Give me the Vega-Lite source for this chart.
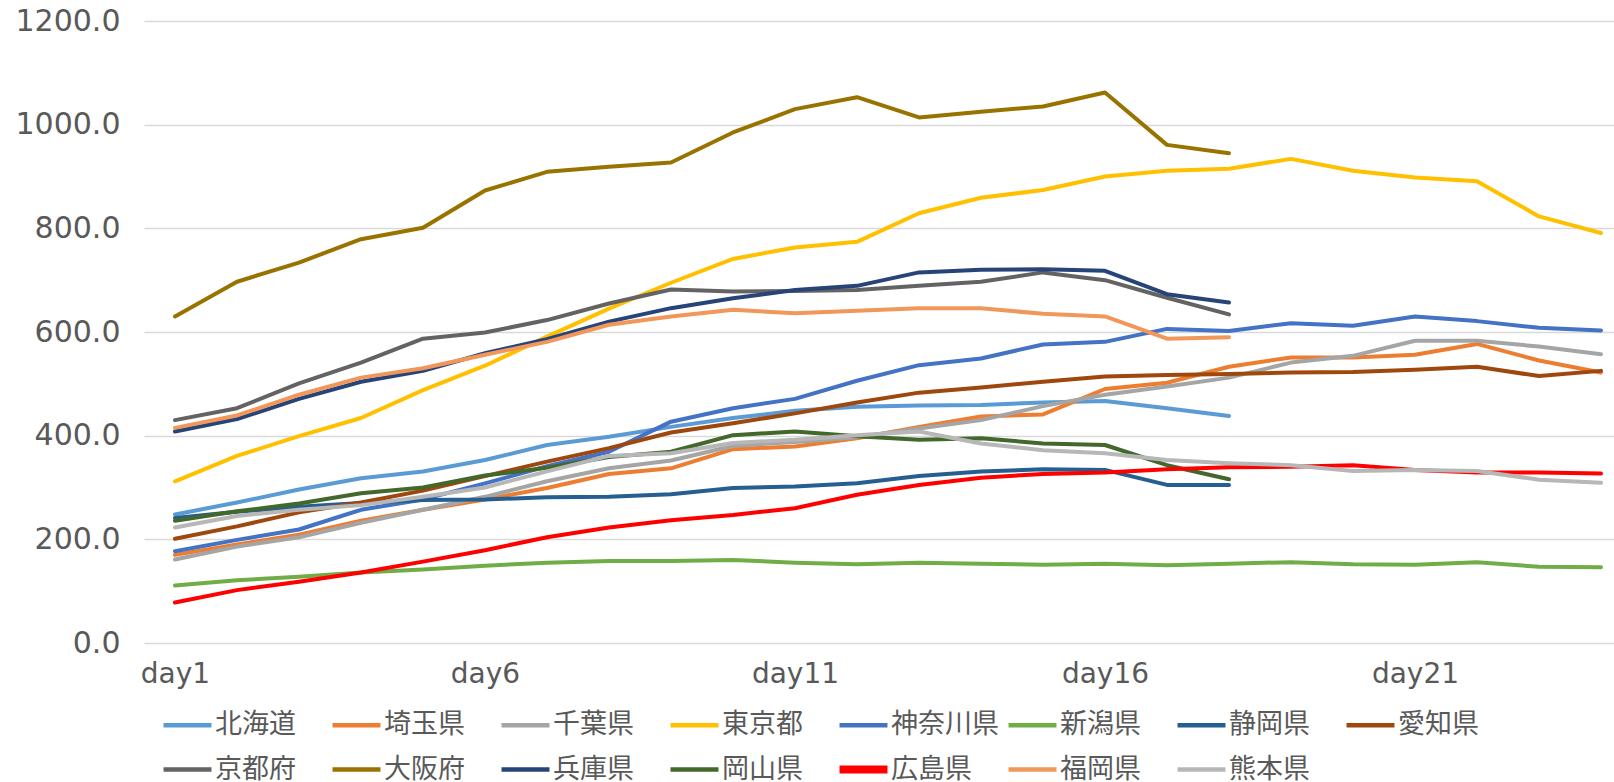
{
  "$schema": "https://vega.github.io/schema/vega-lite/v6.json",
  "width": 1470,
  "height": 622,
  "autosize": {"type": "none"},
  "padding": {"left": 144, "top": 21, "right": 0, "bottom": 139},
  "background": "white",
  "config": {
    "view": {"stroke": null},
    "font": "Noto Sans CJK JP",
    "axis": {"labelColor": "#595959", "labelFontSize": 29, "labelFont": "DejaVu Sans", "domain": false, "ticks": false, "gridColor": "#D9D9D9", "gridWidth": 1.3, "title": null}
  },
  "data": {"values": [
{"pref":"北海道","day":1,"value":248},{"pref":"北海道","day":2,"value":271},{"pref":"北海道","day":3,"value":296},{"pref":"北海道","day":4,"value":318},{"pref":"北海道","day":5,"value":331},{"pref":"北海道","day":6,"value":353},{"pref":"北海道","day":7,"value":382},{"pref":"北海道","day":8,"value":398},{"pref":"北海道","day":9,"value":417},{"pref":"北海道","day":10,"value":434},{"pref":"北海道","day":11,"value":448},{"pref":"北海道","day":12,"value":456},{"pref":"北海道","day":13,"value":458},{"pref":"北海道","day":14,"value":459},{"pref":"北海道","day":15,"value":464},{"pref":"北海道","day":16,"value":467},{"pref":"北海道","day":17,"value":453},{"pref":"北海道","day":18,"value":438},
{"pref":"埼玉県","day":1,"value":170},{"pref":"埼玉県","day":2,"value":190},{"pref":"埼玉県","day":3,"value":209},{"pref":"埼玉県","day":4,"value":236},{"pref":"埼玉県","day":5,"value":257},{"pref":"埼玉県","day":6,"value":277},{"pref":"埼玉県","day":7,"value":299},{"pref":"埼玉県","day":8,"value":326},{"pref":"埼玉県","day":9,"value":337},{"pref":"埼玉県","day":10,"value":374},{"pref":"埼玉県","day":11,"value":379},{"pref":"埼玉県","day":12,"value":395},{"pref":"埼玉県","day":13,"value":417},{"pref":"埼玉県","day":14,"value":437},{"pref":"埼玉県","day":15,"value":441},{"pref":"埼玉県","day":16,"value":490},{"pref":"埼玉県","day":17,"value":502},{"pref":"埼玉県","day":18,"value":533},{"pref":"埼玉県","day":19,"value":551},{"pref":"埼玉県","day":20,"value":551},{"pref":"埼玉県","day":21,"value":556},{"pref":"埼玉県","day":22,"value":577},{"pref":"埼玉県","day":23,"value":545},{"pref":"埼玉県","day":24,"value":522},
{"pref":"千葉県","day":1,"value":161},{"pref":"千葉県","day":2,"value":186},{"pref":"千葉県","day":3,"value":204},{"pref":"千葉県","day":4,"value":232},{"pref":"千葉県","day":5,"value":257},{"pref":"千葉県","day":6,"value":282},{"pref":"千葉県","day":7,"value":312},{"pref":"千葉県","day":8,"value":337},{"pref":"千葉県","day":9,"value":352},{"pref":"千葉県","day":10,"value":380},{"pref":"千葉県","day":11,"value":388},{"pref":"千葉県","day":12,"value":397},{"pref":"千葉県","day":13,"value":414},{"pref":"千葉県","day":14,"value":430},{"pref":"千葉県","day":15,"value":457},{"pref":"千葉県","day":16,"value":479},{"pref":"千葉県","day":17,"value":495},{"pref":"千葉県","day":18,"value":512},{"pref":"千葉県","day":19,"value":541},{"pref":"千葉県","day":20,"value":554},{"pref":"千葉県","day":21,"value":583},{"pref":"千葉県","day":22,"value":583},{"pref":"千葉県","day":23,"value":572},{"pref":"千葉県","day":24,"value":557},
{"pref":"東京都","day":1,"value":312},{"pref":"東京都","day":2,"value":361},{"pref":"東京都","day":3,"value":399},{"pref":"東京都","day":4,"value":434},{"pref":"東京都","day":5,"value":488},{"pref":"東京都","day":6,"value":535},{"pref":"東京都","day":7,"value":591},{"pref":"東京都","day":8,"value":645},{"pref":"東京都","day":9,"value":695},{"pref":"東京都","day":10,"value":741},{"pref":"東京都","day":11,"value":763},{"pref":"東京都","day":12,"value":774},{"pref":"東京都","day":13,"value":829},{"pref":"東京都","day":14,"value":859},{"pref":"東京都","day":15,"value":874},{"pref":"東京都","day":16,"value":900},{"pref":"東京都","day":17,"value":911},{"pref":"東京都","day":18,"value":915},{"pref":"東京都","day":19,"value":934},{"pref":"東京都","day":20,"value":911},{"pref":"東京都","day":21,"value":898},{"pref":"東京都","day":22,"value":891},{"pref":"東京都","day":23,"value":823},{"pref":"東京都","day":24,"value":791},
{"pref":"神奈川県","day":1,"value":177},{"pref":"神奈川県","day":2,"value":199},{"pref":"神奈川県","day":3,"value":219},{"pref":"神奈川県","day":4,"value":257},{"pref":"神奈川県","day":5,"value":277},{"pref":"神奈川県","day":6,"value":308},{"pref":"神奈川県","day":7,"value":341},{"pref":"神奈川県","day":8,"value":369},{"pref":"神奈川県","day":9,"value":427},{"pref":"神奈川県","day":10,"value":453},{"pref":"神奈川県","day":11,"value":471},{"pref":"神奈川県","day":12,"value":506},{"pref":"神奈川県","day":13,"value":536},{"pref":"神奈川県","day":14,"value":549},{"pref":"神奈川県","day":15,"value":576},{"pref":"神奈川県","day":16,"value":581},{"pref":"神奈川県","day":17,"value":606},{"pref":"神奈川県","day":18,"value":602},{"pref":"神奈川県","day":19,"value":617},{"pref":"神奈川県","day":20,"value":612},{"pref":"神奈川県","day":21,"value":630},{"pref":"神奈川県","day":22,"value":621},{"pref":"神奈川県","day":23,"value":608},{"pref":"神奈川県","day":24,"value":603},
{"pref":"新潟県","day":1,"value":111},{"pref":"新潟県","day":2,"value":121},{"pref":"新潟県","day":3,"value":128},{"pref":"新潟県","day":4,"value":136},{"pref":"新潟県","day":5,"value":142},{"pref":"新潟県","day":6,"value":149},{"pref":"新潟県","day":7,"value":155},{"pref":"新潟県","day":8,"value":158},{"pref":"新潟県","day":9,"value":158},{"pref":"新潟県","day":10,"value":160},{"pref":"新潟県","day":11,"value":155},{"pref":"新潟県","day":12,"value":152},{"pref":"新潟県","day":13,"value":155},{"pref":"新潟県","day":14,"value":153},{"pref":"新潟県","day":15,"value":151},{"pref":"新潟県","day":16,"value":153},{"pref":"新潟県","day":17,"value":150},{"pref":"新潟県","day":18,"value":153},{"pref":"新潟県","day":19,"value":156},{"pref":"新潟県","day":20,"value":152},{"pref":"新潟県","day":21,"value":151},{"pref":"新潟県","day":22,"value":156},{"pref":"新潟県","day":23,"value":147},{"pref":"新潟県","day":24,"value":146},
{"pref":"静岡県","day":1,"value":241},{"pref":"静岡県","day":2,"value":253},{"pref":"静岡県","day":3,"value":263},{"pref":"静岡県","day":4,"value":270},{"pref":"静岡県","day":5,"value":276},{"pref":"静岡県","day":6,"value":277},{"pref":"静岡県","day":7,"value":281},{"pref":"静岡県","day":8,"value":282},{"pref":"静岡県","day":9,"value":287},{"pref":"静岡県","day":10,"value":299},{"pref":"静岡県","day":11,"value":302},{"pref":"静岡県","day":12,"value":308},{"pref":"静岡県","day":13,"value":322},{"pref":"静岡県","day":14,"value":331},{"pref":"静岡県","day":15,"value":335},{"pref":"静岡県","day":16,"value":334},{"pref":"静岡県","day":17,"value":305},{"pref":"静岡県","day":18,"value":305},
{"pref":"愛知県","day":1,"value":201},{"pref":"愛知県","day":2,"value":225},{"pref":"愛知県","day":3,"value":252},{"pref":"愛知県","day":4,"value":271},{"pref":"愛知県","day":5,"value":294},{"pref":"愛知県","day":6,"value":322},{"pref":"愛知県","day":7,"value":350},{"pref":"愛知県","day":8,"value":376},{"pref":"愛知県","day":9,"value":406},{"pref":"愛知県","day":10,"value":424},{"pref":"愛知県","day":11,"value":443},{"pref":"愛知県","day":12,"value":464},{"pref":"愛知県","day":13,"value":483},{"pref":"愛知県","day":14,"value":493},{"pref":"愛知県","day":15,"value":504},{"pref":"愛知県","day":16,"value":514},{"pref":"愛知県","day":17,"value":517},{"pref":"愛知県","day":18,"value":519},{"pref":"愛知県","day":19,"value":522},{"pref":"愛知県","day":20,"value":523},{"pref":"愛知県","day":21,"value":527},{"pref":"愛知県","day":22,"value":533},{"pref":"愛知県","day":23,"value":515},{"pref":"愛知県","day":24,"value":525},
{"pref":"京都府","day":1,"value":430},{"pref":"京都府","day":2,"value":453},{"pref":"京都府","day":3,"value":501},{"pref":"京都府","day":4,"value":541},{"pref":"京都府","day":5,"value":587},{"pref":"京都府","day":6,"value":599},{"pref":"京都府","day":7,"value":623},{"pref":"京都府","day":8,"value":655},{"pref":"京都府","day":9,"value":682},{"pref":"京都府","day":10,"value":678},{"pref":"京都府","day":11,"value":679},{"pref":"京都府","day":12,"value":681},{"pref":"京都府","day":13,"value":689},{"pref":"京都府","day":14,"value":697},{"pref":"京都府","day":15,"value":715},{"pref":"京都府","day":16,"value":700},{"pref":"京都府","day":17,"value":666},{"pref":"京都府","day":18,"value":634},
{"pref":"大阪府","day":1,"value":630},{"pref":"大阪府","day":2,"value":697},{"pref":"大阪府","day":3,"value":734},{"pref":"大阪府","day":4,"value":779},{"pref":"大阪府","day":5,"value":801},{"pref":"大阪府","day":6,"value":873},{"pref":"大阪府","day":7,"value":909},{"pref":"大阪府","day":8,"value":919},{"pref":"大阪府","day":9,"value":927},{"pref":"大阪府","day":10,"value":985},{"pref":"大阪府","day":11,"value":1030},{"pref":"大阪府","day":12,"value":1053},{"pref":"大阪府","day":13,"value":1014},{"pref":"大阪府","day":14,"value":1025},{"pref":"大阪府","day":15,"value":1035},{"pref":"大阪府","day":16,"value":1062},{"pref":"大阪府","day":17,"value":961},{"pref":"大阪府","day":18,"value":945},
{"pref":"兵庫県","day":1,"value":408},{"pref":"兵庫県","day":2,"value":432},{"pref":"兵庫県","day":3,"value":471},{"pref":"兵庫県","day":4,"value":504},{"pref":"兵庫県","day":5,"value":525},{"pref":"兵庫県","day":6,"value":559},{"pref":"兵庫県","day":7,"value":586},{"pref":"兵庫県","day":8,"value":620},{"pref":"兵庫県","day":9,"value":646},{"pref":"兵庫県","day":10,"value":665},{"pref":"兵庫県","day":11,"value":681},{"pref":"兵庫県","day":12,"value":689},{"pref":"兵庫県","day":13,"value":715},{"pref":"兵庫県","day":14,"value":720},{"pref":"兵庫県","day":15,"value":721},{"pref":"兵庫県","day":16,"value":718},{"pref":"兵庫県","day":17,"value":673},{"pref":"兵庫県","day":18,"value":657},
{"pref":"岡山県","day":1,"value":236},{"pref":"岡山県","day":2,"value":254},{"pref":"岡山県","day":3,"value":269},{"pref":"岡山県","day":4,"value":289},{"pref":"岡山県","day":5,"value":300},{"pref":"岡山県","day":6,"value":323},{"pref":"岡山県","day":7,"value":338},{"pref":"岡山県","day":8,"value":359},{"pref":"岡山県","day":9,"value":369},{"pref":"岡山県","day":10,"value":401},{"pref":"岡山県","day":11,"value":408},{"pref":"岡山県","day":12,"value":399},{"pref":"岡山県","day":13,"value":392},{"pref":"岡山県","day":14,"value":395},{"pref":"岡山県","day":15,"value":385},{"pref":"岡山県","day":16,"value":382},{"pref":"岡山県","day":17,"value":343},{"pref":"岡山県","day":18,"value":316},
{"pref":"広島県","day":1,"value":78},{"pref":"広島県","day":2,"value":102},{"pref":"広島県","day":3,"value":118},{"pref":"広島県","day":4,"value":136},{"pref":"広島県","day":5,"value":157},{"pref":"広島県","day":6,"value":179},{"pref":"広島県","day":7,"value":204},{"pref":"広島県","day":8,"value":223},{"pref":"広島県","day":9,"value":237},{"pref":"広島県","day":10,"value":247},{"pref":"広島県","day":11,"value":260},{"pref":"広島県","day":12,"value":286},{"pref":"広島県","day":13,"value":305},{"pref":"広島県","day":14,"value":319},{"pref":"広島県","day":15,"value":326},{"pref":"広島県","day":16,"value":329},{"pref":"広島県","day":17,"value":335},{"pref":"広島県","day":18,"value":339},{"pref":"広島県","day":19,"value":340},{"pref":"広島県","day":20,"value":343},{"pref":"広島県","day":21,"value":334},{"pref":"広島県","day":22,"value":329},{"pref":"広島県","day":23,"value":329},{"pref":"広島県","day":24,"value":327},
{"pref":"福岡県","day":1,"value":415},{"pref":"福岡県","day":2,"value":439},{"pref":"福岡県","day":3,"value":479},{"pref":"福岡県","day":4,"value":512},{"pref":"福岡県","day":5,"value":530},{"pref":"福岡県","day":6,"value":556},{"pref":"福岡県","day":7,"value":581},{"pref":"福岡県","day":8,"value":614},{"pref":"福岡県","day":9,"value":630},{"pref":"福岡県","day":10,"value":643},{"pref":"福岡県","day":11,"value":636},{"pref":"福岡県","day":12,"value":641},{"pref":"福岡県","day":13,"value":646},{"pref":"福岡県","day":14,"value":646},{"pref":"福岡県","day":15,"value":635},{"pref":"福岡県","day":16,"value":630},{"pref":"福岡県","day":17,"value":587},{"pref":"福岡県","day":18,"value":590},
{"pref":"熊本県","day":1,"value":223},{"pref":"熊本県","day":2,"value":245},{"pref":"熊本県","day":3,"value":257},{"pref":"熊本県","day":4,"value":266},{"pref":"熊本県","day":5,"value":282},{"pref":"熊本県","day":6,"value":300},{"pref":"熊本県","day":7,"value":331},{"pref":"熊本県","day":8,"value":361},{"pref":"熊本県","day":9,"value":366},{"pref":"熊本県","day":10,"value":386},{"pref":"熊本県","day":11,"value":392},{"pref":"熊本県","day":12,"value":401},{"pref":"熊本県","day":13,"value":408},{"pref":"熊本県","day":14,"value":385},{"pref":"熊本県","day":15,"value":372},{"pref":"熊本県","day":16,"value":366},{"pref":"熊本県","day":17,"value":353},{"pref":"熊本県","day":18,"value":347},{"pref":"熊本県","day":19,"value":343},{"pref":"熊本県","day":20,"value":332},{"pref":"熊本県","day":21,"value":334},{"pref":"熊本県","day":22,"value":332},{"pref":"熊本県","day":23,"value":315},{"pref":"熊本県","day":24,"value":309}
  ]},
  "mark": {"type": "line", "strokeCap": "round", "strokeJoin": "round", "strokeWidth": 4},
  "encoding": {
    "x": {"field": "day", "type": "quantitative", "scale": {"domain": [0.5, 24.21], "nice": false, "zero": false},
      "axis": {"values": [1, 6, 11, 16, 21], "labelExpr": "'day' + datum.value", "grid": false, "labelPadding": 17, "labelAlign": "center", "labelFontSize": 28}},
    "y": {"field": "value", "type": "quantitative", "scale": {"domain": [0, 1200], "nice": false},
      "axis": {"values": [0, 200, 400, 600, 800, 1000, 1200], "format": ".1f", "labelPadding": 24, "grid": true, "labelFontSize": 30}},
    "color": {"field": "pref", "type": "nominal",
      "scale": {"domain": ["北海道","埼玉県","千葉県","東京都","神奈川県","新潟県","静岡県","愛知県","京都府","大阪府","兵庫県","岡山県","広島県","福岡県","熊本県"],
        "range": ["#5B9BD5","#ED7D31","#A5A5A5","#FFC000","#4472C4","#70AD47","#255E91","#9E480E","#636363","#997300","#264478","#43682B","#FF0000","#F1975A","#B7B7B7"]},
      "legend": {"title": null, "orient": "none", "legendX": 30, "legendY": 689, "direction": "horizontal", "columns": 8, "gridAlign": "all", "columnPadding": -7, "rowPadding": 13, "symbolType": "stroke", "symbolSize": 2300, "symbolStrokeWidth": 4.5, "labelFontSize": 27, "labelColor": "#595959", "labelOffset": 14, "labelFont": "Noto Sans CJK JP",
        "encode": {"symbols": {"update": {"strokeWidth": {"signal": "datum.value === '広島県' ? 8 : 4.5"}}}}}},
    "strokeWidth": {"condition": {"test": "datum.pref === '広島県'", "value": 7}, "value": 4}
  }
}
